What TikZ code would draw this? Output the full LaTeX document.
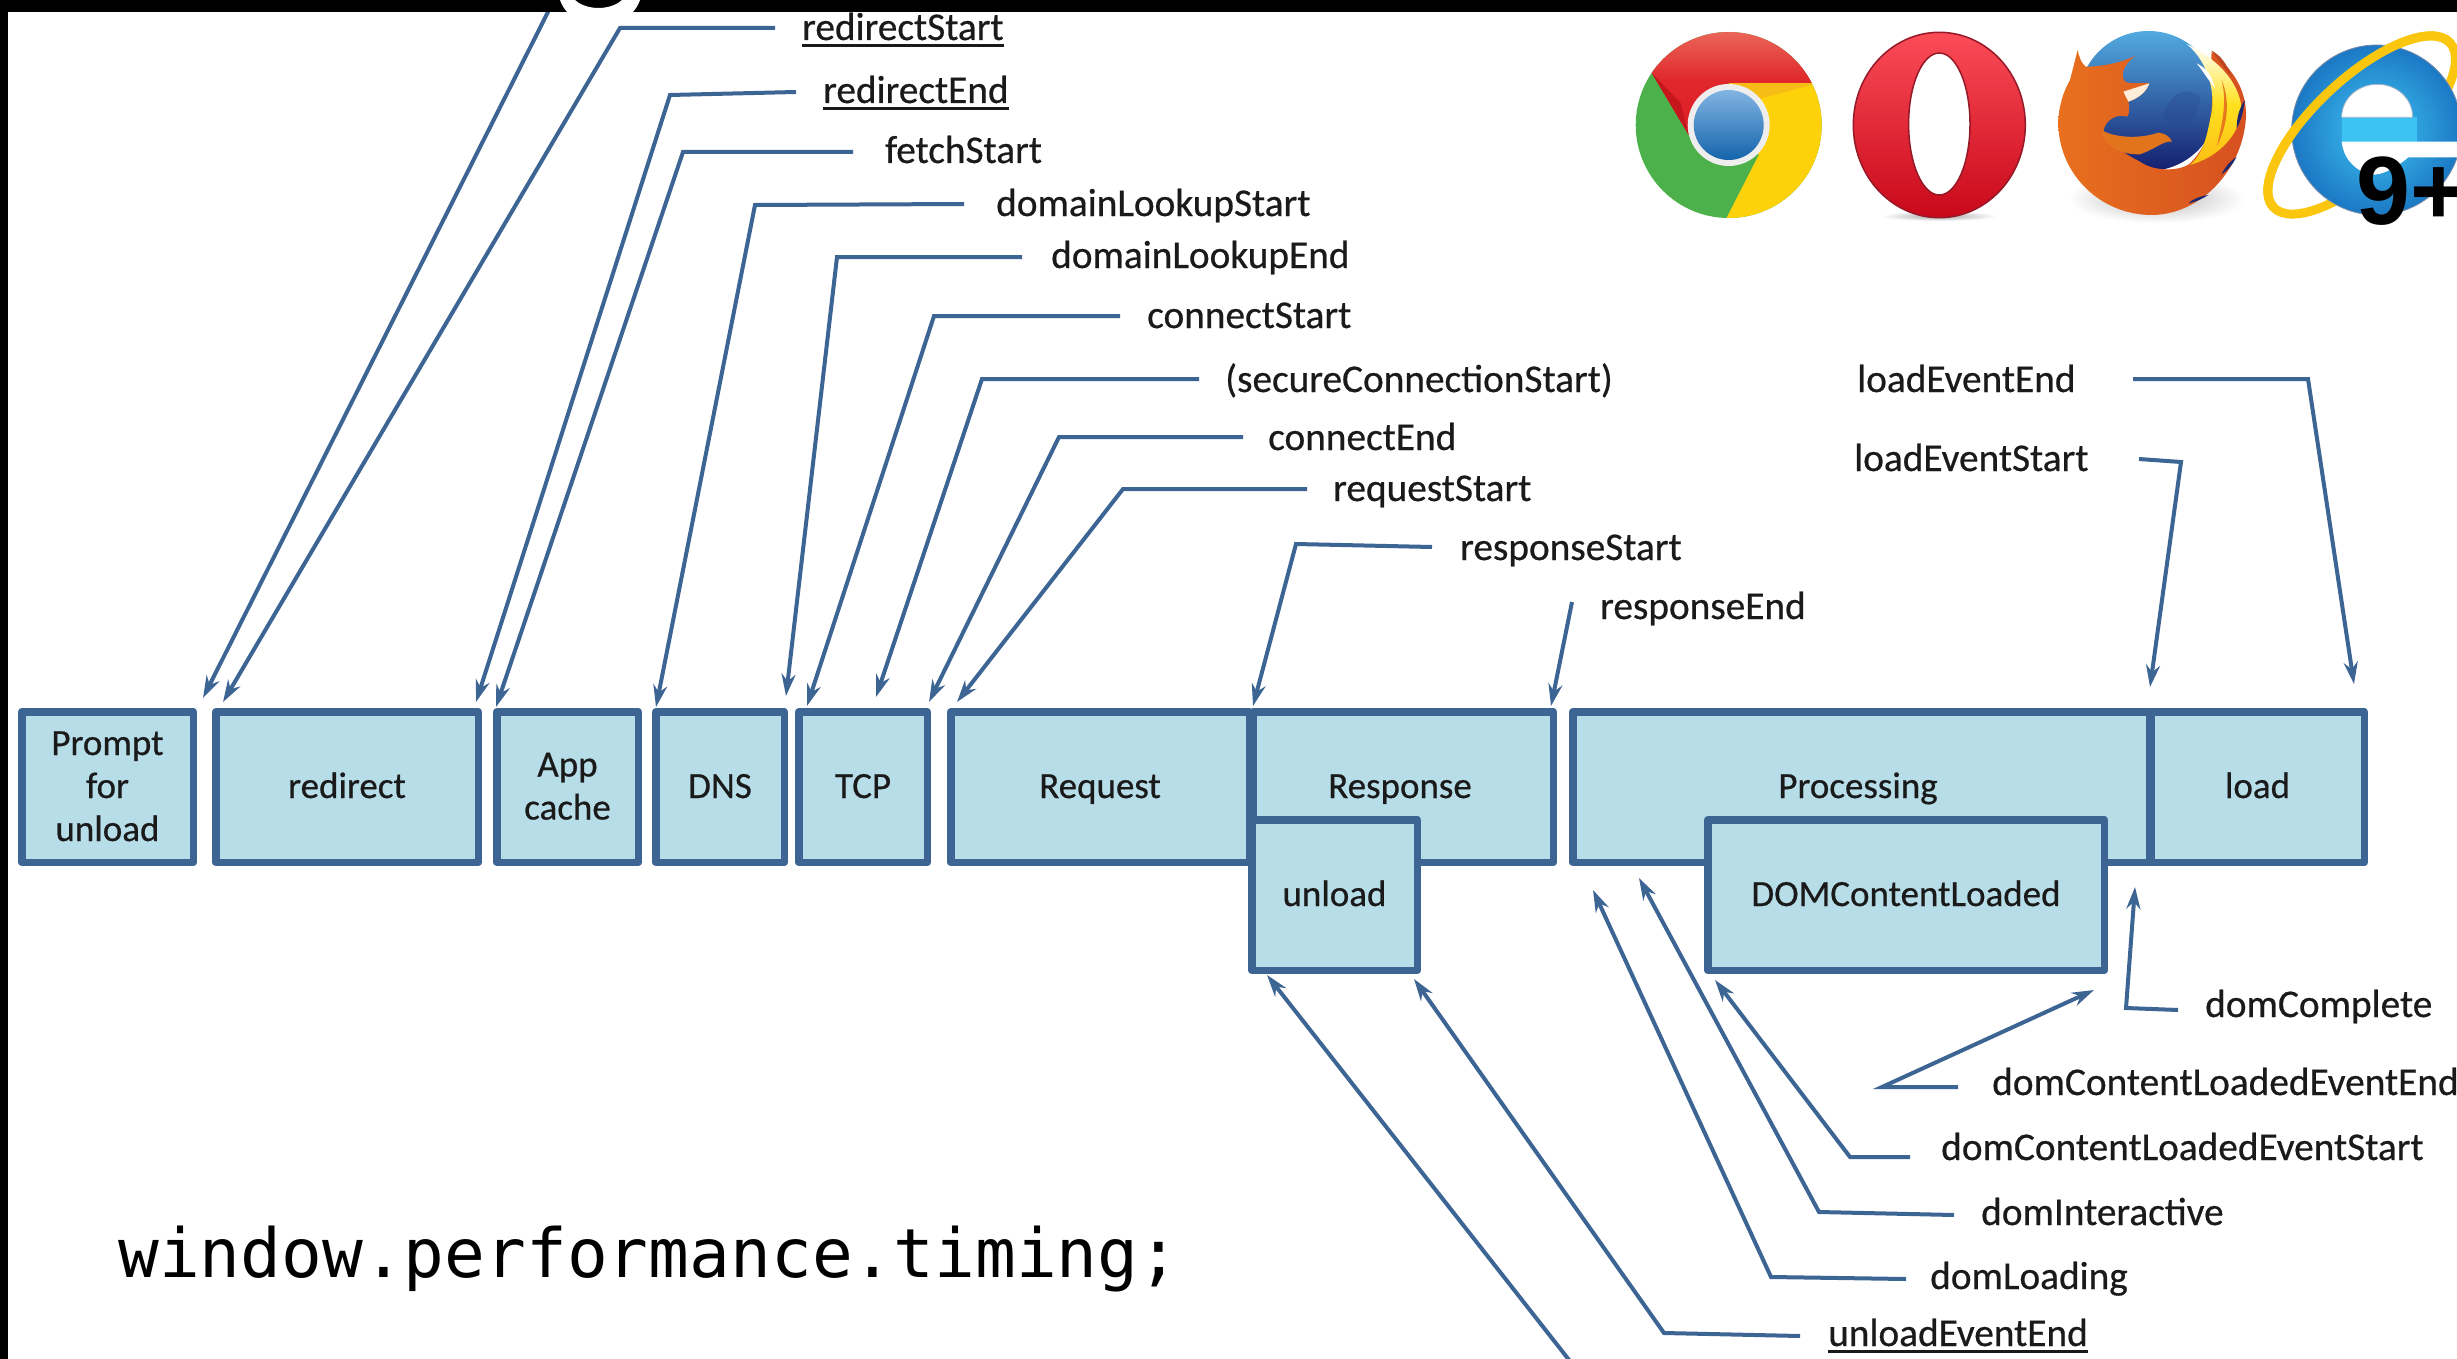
\documentclass[tikz,border=0pt]{standalone}
\usepackage{fontspec}
\setmainfont{Carlito}[FakeBold=0.55]
\newfontfamily\codefont{DejaVu Sans Mono}
\newfontfamily\ninefont{Liberation Sans}
\usetikzlibrary{arrows.meta}
\definecolor{boxline}{HTML}{3D6594}
\definecolor{boxfill}{HTML}{B7DDE8}
\definecolor{inktext}{HTML}{1A1A1A}
\tikzset{
  tbox/.style={draw=boxline,fill=boxfill,line width=7.5pt,inner sep=0pt,align=center,text=inktext,
    font=\fontsize{37}{43}\selectfont,line join=round},
  lbl/.style={anchor=base west,inner sep=0pt,text=inktext,font=\fontsize{39.3}{43}\selectfont},
  conn/.style={draw=boxline,line width=4pt,line join=miter,-{Stealth[length=22pt,width=14pt]}},
}
\newcommand\boxstrutA{\rule[0pt]{0pt}{35pt}}
\newcommand\boxstrutB{\rule[-13pt]{0pt}{13pt}}
% \tbx{name}{left}{top}{right}{bottom}{text}
\newcommand\tbx[6]{\node[tbox,minimum width={#4-#2-7.5pt},minimum height={#5-#3-7.5pt}] (#1) at ({(#2+#4)/2},{(#3+#5)/2}) {\boxstrutA#6\boxstrutB};}
% \cnn{name}{start}{corner}{tip}
\newcommand\cnn[4]{\coordinate (#1s) at (#2);\coordinate (#1c) at (#3);\coordinate (#1t) at (#4);\draw[conn] (#1s) -- (#1c) -- (#1t);}
\newcommand\ulbox[2]{\vtop{\hbox{#1}\kern#2\hrule height 3pt}}
\begin{document}
\begin{tikzpicture}[x=1pt,y=-1pt]
\useasboundingbox (0,0) rectangle (2457,1359);
\clip (0,0) rectangle (2457,1359);
\fill[white] (0,0) rectangle (2457,1359);

% timeline boxes
\tbx{prompt}{18}{708}{197}{866}{Prompt\\for\\unload}
\tbx{redirect}{212}{708}{482}{866}{redirect}
\tbx{appcache}{493}{708}{642}{866}{App\\cache}
\tbx{dns}{652}{708}{788}{866}{DNS}
\tbx{tcp}{795}{708}{931}{866}{TCP}
\tbx{request}{947}{708}{1253}{866}{Request}
\tbx{response}{1249}{708}{1557}{866}{\hspace*{-6pt}Response}
\tbx{processing}{1569}{708}{2153}{866}{\hspace*{-6pt}Processing}
\tbx{load}{2147}{708}{2368}{866}{load}
\tbx{unload}{1248}{816}{1421}{974}{unload}
\tbx{domcl}{1704}{816}{2108}{974}{DOMContentLoaded}

% labels
\node[lbl] (redirectStart) at (802,40) {\ulbox{redirectStart}{3.5pt}};
\node[lbl] (redirectEnd) at (823,103) {\ulbox{redirectEnd}{3.5pt}};
\node[lbl] (fetchStart) at (885,163) {fetchStart};
\node[lbl] (domainLookupStart) at (996,216) {domainLookupStart};
\node[lbl] (domainLookupEnd) at (1051,268) {domainLookupEnd};
\node[lbl] (connectStart) at (1147,328) {connectStart};
\node[lbl] (secureConnectionStart) at (1225,392) {(secureConnectionStart)};
\node[lbl] (connectEnd) at (1268,450) {connectEnd};
\node[lbl] (requestStart) at (1333,501) {requestStart};
\node[lbl] (responseStart) at (1460,560) {responseStart};
\node[lbl] (responseEnd) at (1600,619) {responseEnd};
\node[lbl] (loadEventEnd) at (1857,392) {loadEventEnd};
\node[lbl] (loadEventStart) at (1854,471) {loadEventStart};
\node[lbl] (domComplete) at (2205,1017) {domComplete};
\node[lbl] (domContentLoadedEventEnd) at (1992,1095) {domContentLoadedEventEnd};
\node[lbl] (domContentLoadedEventStart) at (1941,1160) {domContentLoadedEventStart};
\node[lbl] (domInteractive) at (1981,1225) {domInteractive};
\node[lbl] (domLoading) at (1930,1289) {domLoading};
\node[lbl] (unloadEventEnd) at (1828,1346) {\ulbox{unloadEventEnd}{3.5pt}};

% connectors
\coordinate (navs) at (552,4);\coordinate (navt) at (203,698);
\draw[conn] (navs) -- (navt);
\cnn{rs}{775,28}{620,28}{223,702}
\cnn{re}{796,92}{670,95}{476,702}
\cnn{fs}{853,152}{683,152}{496,707}
\cnn{dls}{964,204}{755,205}{656,707}
\cnn{dle}{1022,257}{837,257}{786,696}
\cnn{cs}{1120,316}{934,316}{807,706}
\cnn{scs}{1199,379}{982,379}{876,697}
\cnn{ce}{1243,437}{1059,437}{929,702}
\cnn{rqs}{1307,489}{1123,489}{957,702}
\cnn{rps}{1432,547}{1296,544}{1253,706}
\coordinate (rpes) at (1572,602);\coordinate (rpet) at (1551,706);
\draw[conn] (rpes) -- (rpet);
\cnn{les}{2139,459}{2181,462}{2150,687}
\cnn{lee}{2133,379}{2308,379}{2354,684}
\cnn{dc}{2178,1010}{2126,1008}{2135,887}
\cnn{dce}{1958,1087}{1882,1087}{2094,990}
\cnn{dcs}{1910,1157}{1850,1157}{1715,980}
\cnn{di}{1954,1215}{1819,1212}{1639,878}
\cnn{dl}{1906,1279}{1771,1277}{1593,890}
\cnn{uee}{1800,1336}{1664,1333}{1414,979}
\coordinate (uess) at (1573,1365);\coordinate (uest) at (1267,975);
\draw[conn] (uess) -- (uest);

% code line
\node[anchor=base west,inner sep=0pt,text=black,font=\codefont\fontsize{67.8}{75}\selectfont] (code) at (118,1277) {window.performance.timing;};

% Chrome logo
\begin{scope}[shift={(1728.7,125)}]
  \begin{scope}
    \clip (0,0) circle (93);
    \fill[fill={rgb,255:red,76;green,177;blue,74}] (-100,-100) rectangle (100,100);
    \fill[fill={rgb,255:red,254;green,210;blue,10}] (0,-42) -- (120,-42) -- (120,120) -- (-16,120) -- (30,30) -- cycle;
    \fill[fill={rgb,255:red,247;green,188;blue,22}] (0,-42) -- (90,-42) -- (30,-26) -- cycle;
    \shade[top color={rgb,255:red,236;green,110;blue,95},bottom color={rgb,255:red,222;green,28;blue,36},middle color={rgb,255:red,224;green,40;blue,44}] (-40,10) -- (-77,-52) -- (-140,-95) -- (-140,-100) -- (100,-100) -- (100,-42) -- (0,-42) -- cycle;
    \fill[fill={rgb,255:red,196;green,22;blue,28}] (-40,10) -- (-77,-52) -- (-48,-22) -- cycle;
  \end{scope}
  \fill[fill={rgb,255:red,238;green,238;blue,238}] (0,0) circle (41);
  \shade[top color={rgb,255:red,130;green,180;blue,226},bottom color={rgb,255:red,20;green,100;blue,172}] (0,0) circle (35);
\end{scope}

% Opera logo
\shade[inner color=gray!70,outer color=white] (1939,216) ellipse (58 and 5);
\shade[draw={rgb,255:red,150;green,25;blue,40},line width=1.5pt,even odd rule,top color={rgb,255:red,251;green,76;blue,88},bottom color={rgb,255:red,201;green,8;blue,26}]
  (1939.3,125) ellipse (86 and 92.7) (1939.3,124) ellipse (30.7 and 71);

% Firefox logo (coordinates in 3x crop pixels)
\begin{scope}[shift={(2040,20)},x=0.3333pt,y=-0.3333pt]
  \shade[inner color=gray!55,outer color=white] (350,535) ellipse (265 and 75);
  \shade[top color={rgb,255:red,82;green,170;blue,224},bottom color={rgb,255:red,20;green,30;blue,110}] (325,243) circle (210);
  \fill[fill={rgb,255:red,40;green,70;blue,150},opacity=.35] (370,290) .. controls (390,210) and (440,200) .. (480,230) .. controls (480,300) and (430,340) .. (370,290) -- cycle;
  % body
  \shade[left color={rgb,255:red,232;green,112;blue,30},right color={rgb,255:red,214;green,80;blue,32}]
    (90,180) -- (113,90) .. controls (118,115) and (125,130) .. (137,140) .. controls (180,140) and (240,130) .. (285,108)
    .. controls (250,135) and (240,165) .. (255,185) .. controls (280,195) and (310,185) .. (328,190)
    .. controls (320,215) and (295,235) .. (265,245) .. controls (270,265) and (268,280) .. (262,290)
    .. controls (230,280) and (195,300) .. (190,335) .. controls (215,375) and (250,400) .. (300,425)
    .. controls (340,455) and (420,455) .. (450,430) .. controls (490,390) and (505,350) .. (510,300)
    .. controls (525,230) and (510,150) .. (515,95) .. controls (580,150) and (620,210) .. (618,290)
    .. controls (610,450) and (480,585) .. (335,585) .. controls (180,585) and (55,460) .. (55,310)
    .. controls (55,260) and (70,215) .. (90,180) -- cycle;
  % tail
  \fill[fill={rgb,255:red,226;green,116;blue,28}] (185,330) .. controls (215,350) and (290,360) .. (355,338) .. controls (375,340) and (390,350) .. (396,365) .. controls (370,362) and (350,385) .. (300,403) .. controls (250,405) and (185,380) .. (185,330) -- cycle;
  % muzzle
  \fill[white!85!orange] (250,215) -- (328,190) .. controls (320,215) and (295,235) .. (265,245) -- cycle;
  % flames
  \shade[top color=white,bottom color={rgb,255:red,250;green,190;blue,20},middle color={rgb,255:red,255;green,225;blue,30}]
    (440,72) .. controls (520,110) and (600,180) .. (605,270) .. controls (600,340) and (540,410) .. (450,435)
    .. controls (490,400) and (500,350) .. (510,300) .. controls (530,230) and (510,130) .. (440,72) -- cycle;
  \fill[white] (470,130) .. controls (500,145) and (515,165) .. (525,205) .. controls (505,180) and (490,155) .. (470,130) -- cycle;
  \fill[fill={rgb,255:red,232;green,120;blue,30}] (545,180) .. controls (570,240) and (565,310) .. (530,380) .. controls (550,300) and (560,240) .. (545,180) -- cycle;
  % dark marks
  \fill[fill={rgb,255:red,30;green,40;blue,110}] (615,240) .. controls (610,270) and (605,300) .. (590,325) .. controls (590,290) and (600,260) .. (615,240) -- cycle;
  \fill[fill={rgb,255:red,30;green,40;blue,110}] (590,410) .. controls (580,430) and (565,450) .. (545,463) .. controls (555,440) and (570,425) .. (590,410) -- cycle;
  \fill[fill={rgb,255:red,30;green,40;blue,110}] (505,525) .. controls (490,535) and (470,545) .. (445,550) .. controls (460,535) and (485,528) .. (505,525) -- cycle;
  \fill[fill={rgb,255:red,190;green,70;blue,30}] (515,92) .. controls (540,105) and (560,130) .. (575,170) .. controls (550,140) and (530,115) .. (515,92) -- cycle;
\end{scope}

% Internet Explorer logo (coordinates in 3x crop pixels)
\begin{scope}[shift={(2040,20)},x=0.3333pt,y=-0.3333pt]
  \definecolor{ring}{HTML}{FBC70E}
  \draw[ring,line width=9pt,rotate around={43:(965,315)}] (965,315) ellipse (362 and 140);
  \shade[draw={rgb,255:red,120;green,140;blue,170},line width=.8pt,inner color={rgb,255:red,62;green,198;blue,244},outer color={rgb,255:red,28;green,120;blue,196}] (1010,330) circle (255);
  \fill[fill={rgb,255:red,60;green,195;blue,243}] (905,292) rectangle (1130,365);
  % e opening
  \fill[white,draw={rgb,255:red,165;green,180;blue,200},line width=.8pt] (905,292) .. controls (905,235) and (955,193) .. (1012,193) .. controls (1070,193) and (1118,235) .. (1118,292) -- cycle;
  \fill[white] (905,365) -- (1270,365) -- (1270,412) -- (1105,412) .. controls (1060,450) and (1010,475) .. (975,460) .. controls (935,440) and (910,410) .. (905,365) -- cycle;
  \begin{scope}[rotate around={43:(965,315)}]
    \clip (500,-200) rectangle (1430,315);
    \draw[ring,line width=9pt] (965,315) ellipse (362 and 140);
  \end{scope}
\end{scope}
\node[anchor=base west,inner sep=0pt,text=black,font=\ninefont\bfseries\fontsize{97}{100}\selectfont] (nineplus) at (2356,225) {9+};

% window frame
\fill[black] (0,0) rectangle (2457,12);
\fill[black] (0,0) rectangle (8,1359);
% descender of the cropped title letter
\begin{scope}
  \clip (500,0) rectangle (700,12);
  \fill[white,even odd rule] (600,-10) ellipse (41.6 and 36) (598.5,-10) ellipse (28.3 and 18);
\end{scope}
\end{tikzpicture}
\end{document}
